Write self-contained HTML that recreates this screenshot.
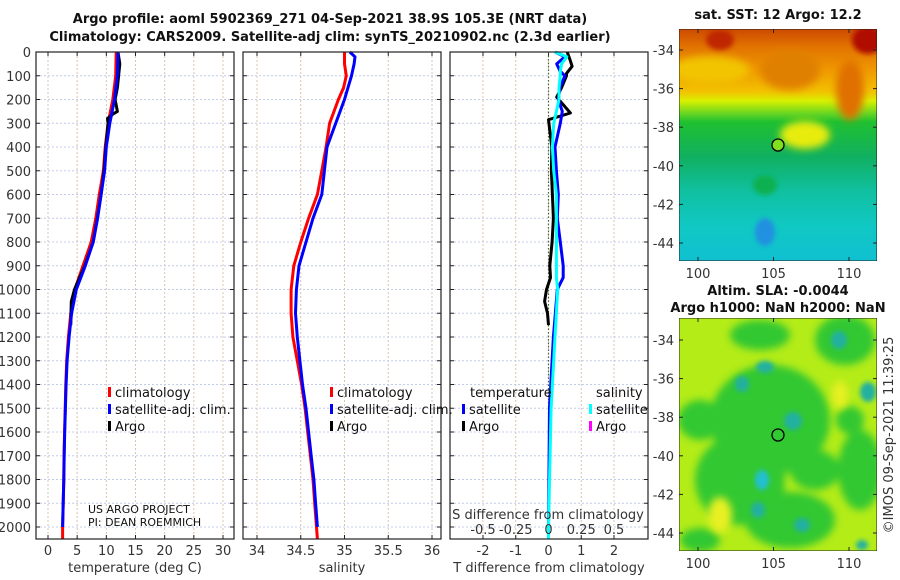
<!DOCTYPE html>
<html><head><meta charset="utf-8"><style>
html,body{margin:0;padding:0;background:#fff;}
svg{display:block;font-family:"DejaVu Sans","Liberation Sans",sans-serif;}
.tk{font-size:13px;fill:#333;}
.ttl{font-size:13px;font-weight:bold;fill:#111;}
.lg{font-size:13px;fill:#111;}
</style></head><body>
<svg id="fig" width="900" height="580" viewBox="0 0 900 580" xmlns="http://www.w3.org/2000/svg">
<defs>
<linearGradient id="sstg" x1="0" y1="0" x2="0" y2="1">
<stop offset="0" stop-color="#cc4a00"/><stop offset="0.07" stop-color="#e07000"/>
<stop offset="0.18" stop-color="#f09a00"/><stop offset="0.27" stop-color="#f2c200"/>
<stop offset="0.31" stop-color="#d8f000"/><stop offset="0.36" stop-color="#70d820"/>
<stop offset="0.40" stop-color="#20c030"/><stop offset="0.55" stop-color="#10b060"/>
<stop offset="0.70" stop-color="#10c0a0"/><stop offset="0.85" stop-color="#10c8c4"/>
<stop offset="1" stop-color="#10c0d0"/>
</linearGradient>
<filter id="bl" x="-50%" y="-50%" width="200%" height="200%"><feGaussianBlur stdDeviation="4"/></filter>
<filter id="bl2" x="-50%" y="-50%" width="200%" height="200%"><feGaussianBlur stdDeviation="2.5"/></filter>
<clipPath id="c1"><rect x="679" y="29" width="198" height="232"/></clipPath>
<clipPath id="c2"><rect x="679" y="318" width="198" height="233"/></clipPath>
</defs>
<g id="titles">
<text class="ttl" x="330" y="23" text-anchor="middle">Argo profile: aoml 5902369_271 04-Sep-2021 38.9S 105.3E (NRT data)</text>
<text class="ttl" x="330" y="41" text-anchor="middle">Climatology: CARS2009. Satellite-adj clim: synTS_20210902.nc (2.3d earlier)</text>
</g>
<g id="panels"></g>
<g id="maps">
<g clip-path="url(#c1)">
<rect x="679" y="29" width="198" height="232" fill="url(#sstg)"/>
<ellipse cx="710" cy="70" rx="40" ry="14" fill="#f2c400" filter="url(#bl)"/>
<ellipse cx="790" cy="70" rx="30" ry="20" fill="#e08000" filter="url(#bl)"/>
<ellipse cx="720" cy="40" rx="14" ry="10" fill="#c02800" filter="url(#bl2)"/>
<ellipse cx="868" cy="40" rx="16" ry="14" fill="#b01000" filter="url(#bl2)"/>
<ellipse cx="850" cy="90" rx="14" ry="30" fill="#e07000" filter="url(#bl)"/>
<ellipse cx="805" cy="135" rx="25" ry="14" fill="#e8ec10" filter="url(#bl)"/>
<ellipse cx="765" cy="232" rx="10" ry="14" fill="#2090e0" filter="url(#bl2)"/>
<ellipse cx="765" cy="185" rx="12" ry="10" fill="#10b050" filter="url(#bl2)"/>
<rect x="679" y="29" width="198" height="232" fill="none" stroke="#222" stroke-width="1"/>
</g>
<circle cx="778" cy="145" r="6" fill="#80e020" stroke="#000" stroke-width="1.3"/>
<g clip-path="url(#c2)">
<rect x="679" y="318" width="198" height="233" fill="#b4ec18"/>
<g filter="url(#bl)" fill="#30c830">
<ellipse cx="770" cy="420" rx="60" ry="55"/><ellipse cx="740" cy="480" rx="45" ry="45"/>
<ellipse cx="790" cy="520" rx="45" ry="28"/><ellipse cx="700" cy="420" rx="22" ry="20"/>
<ellipse cx="860" cy="470" rx="22" ry="40"/><ellipse cx="845" cy="340" rx="30" ry="25"/>
<ellipse cx="760" cy="335" rx="30" ry="15"/><ellipse cx="850" cy="420" rx="14" ry="14"/>
<ellipse cx="815" cy="470" rx="25" ry="20"/><ellipse cx="700" cy="540" rx="20" ry="12"/>
</g>
<g filter="url(#bl2)" fill="#20b0a0">
<ellipse cx="839" cy="340" rx="8" ry="9"/><ellipse cx="742" cy="384" rx="7" ry="8"/>
<ellipse cx="765" cy="367" rx="9" ry="6"/><ellipse cx="793" cy="421" rx="9" ry="9"/>
<ellipse cx="762" cy="480" rx="7" ry="10" fill="#20c0d0"/><ellipse cx="758" cy="510" rx="7" ry="8"/>
<ellipse cx="868" cy="392" rx="8" ry="10"/><ellipse cx="802" cy="525" rx="8" ry="7"/>
<ellipse cx="862" cy="545" rx="6" ry="5"/>
</g>
<g filter="url(#bl)" fill="#e8f020"><ellipse cx="840" cy="395" rx="8" ry="14"/><ellipse cx="720" cy="515" rx="12" ry="18"/></g>
<rect x="679" y="318" width="198" height="233" fill="none" stroke="#222" stroke-width="1"/>
</g>
<circle cx="778" cy="435" r="6" fill="none" stroke="#000" stroke-width="1.3"/>
<text class="ttl" x="778" y="19" text-anchor="middle">sat. SST: 12 Argo: 12.2</text>
<text class="ttl" x="778" y="295" text-anchor="middle">Altim. SLA: -0.0044</text>
<text class="ttl" x="778" y="312" text-anchor="middle">Argo h1000: NaN h2000: NaN</text>
<text class="tk" transform="translate(893,435) rotate(-90)" text-anchor="middle">©IMOS 09-Sep-2021 11:39:25</text>
</g>
<g id="mapaxes"></g>
</svg>
<script>
// ---- data ----
const depthT = [0,100,200,300,400,500,600,700,800,900,1000,1100,1200,1300,1400,1500,1600,1700,1800,1900,2000,2050];
const tempClim = [11.7,11.6,11.1,10.3,9.8,9.5,8.8,8.2,7.4,6.0,4.6,3.9,3.5,3.2,3.05,2.95,2.85,2.75,2.7,2.6,2.5,2.5];
const tempSat = [12.0,11.9,11.4,10.6,10.0,9.7,9.1,8.5,7.75,6.4,4.85,4.05,3.62,3.28,3.1,2.98,2.87,2.77,2.71,2.61,2.5,2.5];
const depthArgo = [0,50,100,150,200,250,260,280,300,400,500,600,700,800,900,1000,1050,1100,1150];
const tempArgo = [12.0,12.3,12.1,11.9,11.5,11.9,11.2,10.2,10.3,9.9,9.6,9.1,8.45,7.75,6.3,4.55,4.0,3.95,3.9];
const depthS = [0,20,50,100,150,200,300,400,500,600,700,800,900,1000,1100,1200,1300,1400,1500,1600,1700,1800,1900,2000,2050];
const salClim = [35.0,35.0,35.0,35.02,34.99,34.93,34.83,34.79,34.74,34.69,34.59,34.5,34.42,34.39,34.39,34.41,34.46,34.51,34.55,34.58,34.61,34.64,34.66,34.68,34.69];
const salSat = [35.06,35.12,35.11,35.08,35.04,35.0,34.9,34.8,34.77,34.74,34.64,34.56,34.48,34.45,34.44,34.46,34.49,34.52,34.56,34.59,34.62,34.65,34.67,34.69,34.69];
const depthD = [0,20,50,80,100,150,200,250,300,400,500,600,700,800,900,950,1000,1200,1500,2000,2050];
const tDiffSat = [0.2,0.5,0.25,0.35,0.5,0.35,0.3,0.42,0.36,0.2,0.24,0.3,0.27,0.36,0.45,0.45,0.27,0.15,0.03,0.0,0.0];
const sDiffSat = [0.05,0.14,0.1,0.09,0.09,0.08,0.08,0.06,0.04,0.03,0.04,0.06,0.06,0.06,0.06,0.06,0.07,0.05,0.02,0.0,0.0];
const tDiffArgo = [0.57,0.65,0.72,0.55,0.55,0.4,0.25,0.67,0.0,0.1,0.09,0.12,0.15,0.11,0.04,0.06,-0.06,-0.12,-0.03,0.0];
const depthDA = [0,30,60,90,100,150,190,257,285,400,500,600,700,800,900,950,1000,1050,1100,1150];
const depthTicks = [0,100,200,300,400,500,600,700,800,900,1000,1100,1200,1300,1400,1500,1600,1700,1800,1900,2000];
const tempTicks = [0,5,10,15,20,25,30];
const salTicks = [34,34.5,35,35.5,36];
const salTickLabels = ["34","34.5","35","35.5","36"];
const tdTicks = [-2,-1,0,1,2];
const sdTicks = [-0.5,-0.25,0,0.25,0.5];
const sdTickLabels = ["-0.5","-0.25","0","0.25","0.5"];
const latTicks = [-34,-36,-38,-40,-42,-44];
const lonTicks = [100,105,110];

const NS="http://www.w3.org/2000/svg";
function mk(tag,attrs,parent){const e=document.createElementNS(NS,tag);for(const k in attrs)e.setAttribute(k,attrs[k]);parent.appendChild(e);return e;}
function lin(d0,d1,r0,r1){return v=>r0+(v-d0)*(r1-r0)/(d1-d0);}
const y=lin(0,2000,52,527);
const TOP=52,BOT=539;
const panelsG=document.getElementById('panels');

function panel(name,x0,x1,sx,ticks,labels,xlabel){
  const g=mk('g',{},panelsG);
  
  
  ticks.forEach(t=>{const l=mk('line',{x1:sx(t),x2:sx(t),y1:TOP,y2:BOT,stroke:'#d8c4b0','stroke-width':1,'stroke-dasharray':'2,2'},g);
    
    });
  depthTicks.forEach(d=>{const l=mk('line',{x1:x0,x2:x1,y1:y(d),y2:y(d),stroke:'#c4cceb','stroke-width':1,'stroke-dasharray':'2,2'},g);
    
    });
  depthTicks.forEach(d=>{mk('line',{x1:x0,x2:x0+4,y1:y(d),y2:y(d),stroke:'#222'},g);mk('line',{x1:x1-4,x2:x1,y1:y(d),y2:y(d),stroke:'#222'},g);});
  ticks.forEach((t,i)=>{mk('line',{x1:sx(t),x2:sx(t),y1:TOP,y2:TOP+4,stroke:'#222'},g);mk('line',{x1:sx(t),x2:sx(t),y1:BOT-4,y2:BOT,stroke:'#222'},g);
    if(labels){const tx=mk('text',{x:sx(t),y:555,'text-anchor':'middle',class:'tk'},g);tx.textContent=labels[i];
      
      }});
  const xl=mk('text',{x:(x0+x1)/2,y:572,'text-anchor':'middle',class:'tk'},g);xl.textContent=xlabel;
  
  
  return g;
}
function frame(g,x0,x1){const r=mk('rect',{x:x0,y:TOP,width:x1-x0,height:BOT-TOP,fill:'none',stroke:'#222','stroke-width':1.2},g);
  
  }
function line(g,name,xs,ds,sx,color,w){
  const pts=xs.map((v,i)=>sx(v).toFixed(1)+','+Math.min(y(ds[i]),BOT).toFixed(1)).join(' ');
  const p=mk('polyline',{points:pts,fill:'none',stroke:color,'stroke-width':w,'stroke-linejoin':'round'},g);
  
  
}
function legend(g,x,y0,items){
  items.forEach((it,i)=>{const yy=y0+i*17;
    if(it.c){const m=mk('rect',{x:x,y:yy-10,width:3,height:10,fill:it.c},g);
      
      }
    const t=mk('text',{x:x+(it.c?7:0),y:yy,class:'lg'},g);t.textContent=it.t;
    
    });
}

// panel 1
const sx1=lin(0,30,48,223);
const g1=panel('temperature-panel',36,234,sx1,tempTicks,tempTicks.map(String),'temperature (deg C)');
depthTicks.forEach(d=>{const t=mk('text',{x:31,y:y(d)+5,'text-anchor':'end',class:'tk'},g1);t.textContent=d;
  
  });
line(g1,'temperature-climatology-line',tempClim,depthT,sx1,'#f00',3);
line(g1,'temperature-argo-line',tempArgo,depthArgo,sx1,'#000',3);
line(g1,'temperature-satellite-line',tempSat.slice(0,-1),depthT.slice(0,-1),sx1,'#00f',3);
frame(g1,36,234);
legend(g1,108,397,[{c:'#f00',t:'climatology'},{c:'#00f',t:'satellite-adj. clim.'},{c:'#000',t:'Argo'}]);
const n1=mk('text',{x:88,y:513,class:'lg',style:'font-size:11px'},g1);n1.textContent='US ARGO PROJECT';


const n2=mk('text',{x:88,y:526,class:'lg',style:'font-size:11px'},g1);n2.textContent='PI: DEAN ROEMMICH';



// panel 2
const sx2=lin(34,36,257,432);
const g2=panel('salinity-panel',243,441,sx2,salTicks,salTickLabels,'salinity');
line(g2,'salinity-climatology-line',salClim,depthS,sx2,'#f00',3);
line(g2,'salinity-satellite-line',salSat.slice(0,-1),depthS.slice(0,-1),sx2,'#00f',3);
frame(g2,243,441);
legend(g2,330,397,[{c:'#f00',t:'climatology'},{c:'#00f',t:'satellite-adj. clim.'},{c:'#000',t:'Argo'}]);

// panel 3
const sx3=lin(-2,2,483,614);
const ss3=lin(-0.5,0.5,483,614);
const g3=panel('difference-panel',450,648,sx3,tdTicks,tdTicks.map(String),'T difference from climatology');
const zl=mk('line',{x1:sx3(0),x2:sx3(0),y1:TOP,y2:BOT,stroke:'#446633','stroke-width':1.2,'stroke-dasharray':'1.5,2'},g3);


line(g3,'t-diff-argo-line',tDiffArgo,depthDA,sx3,'#000',3);
line(g3,'t-diff-satellite-line',tDiffSat,depthD,sx3,'#00f',3);
line(g3,'s-diff-satellite-line',sDiffSat,depthD,ss3,'#0ff',3);
frame(g3,450,648);
legend(g3,470,397,[{t:'temperature'}]);
legend(g3,462,414,[{c:'#00f',t:'satellite'},{c:'#000',t:'Argo'}]);
legend(g3,596,397,[{t:'salinity'}]);
legend(g3,589,414,[{c:'#0ff',t:'satellite'},{c:'#f0f',t:'Argo'}]);
const st=mk('text',{x:548,y:519,'text-anchor':'middle',class:'tk'},g3);st.textContent='S difference from climatology';


sdTicks.forEach((t,i)=>{const tx=mk('text',{x:ss3(t),y:534,'text-anchor':'middle',class:'tk'},g3);tx.textContent=sdTickLabels[i];
  
  });

// map axes
const ma=document.getElementById('mapaxes');
function mapAxes(y0,y1,latY){
  const lx=lin(100,110,698,849);
  latTicks.forEach(la=>{const yy=latY(la);
    mk('line',{x1:679,x2:683,y1:yy,y2:yy,stroke:'#222'},ma);mk('line',{x1:873,x2:877,y1:yy,y2:yy,stroke:'#222'},ma);
    const t=mk('text',{x:674,y:yy+5,'text-anchor':'end',class:'tk'},ma);t.textContent=la;
    
    });
  lonTicks.forEach(lo=>{const xx=lx(lo);
    mk('line',{x1:xx,x2:xx,y1:y0,y2:y0+4,stroke:'#222'},ma);mk('line',{x1:xx,x2:xx,y1:y1-4,y2:y1,stroke:'#222'},ma);
    const t=mk('text',{x:xx,y:y1+17,'text-anchor':'middle',class:'tk'},ma);t.textContent=lo;
    
    });
}
mapAxes(29,261,lin(-34,-44,50,243));
mapAxes(318,551,lin(-34,-44,340,533));
</script>
</body></html>
